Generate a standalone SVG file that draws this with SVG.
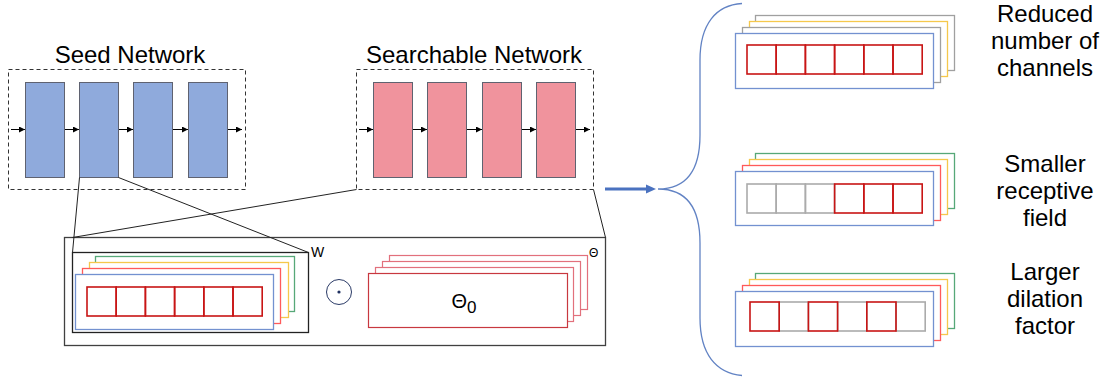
<svg xmlns="http://www.w3.org/2000/svg" width="1112" height="380" viewBox="0 0 1112 380">
  <defs>
    <marker id="tip" viewBox="0 0 6 6" refX="6" refY="3" markerWidth="6" markerHeight="6" markerUnits="userSpaceOnUse" orient="auto">
      <path d="M0,0 L6,3 L0,6 Z" fill="#000"/>
    </marker>
    <style>
      .title { font-family: "Liberation Sans", Arial, sans-serif; font-size: 24px; fill: #000; text-anchor: middle; }
      .side { font-family: "Liberation Sans", Arial, sans-serif; font-size: 24px; fill: #000; text-anchor: middle; }
      .small { font-family: "Liberation Sans", Arial, sans-serif; font-size: 14px; fill: #000; }
      .dash { fill: none; stroke: #333; stroke-width: 1; stroke-dasharray: 4 3; }
      .seed { fill: #8faadc; stroke: #5f6270; stroke-width: 1; }
      .search { fill: #f0939d; stroke: #5f6270; stroke-width: 1; }
      .flow { stroke: #000; stroke-width: 1; fill: none; marker-end: url(#tip); }
      .zoomline { stroke: #222; stroke-width: 1; fill: none; }
      .lay { fill: #fff; stroke-width: 1.3; }
      .blue { stroke: #7391d0; }
      .red { stroke: #ff5a5a; }
      .yel { stroke: #f5c84c; }
      .grn { stroke: #56a878; }
      .gry { stroke: #a0a0a0; }
      .cellR { fill: none; stroke: #c81515; stroke-width: 1.6; }
      .cellG { fill: none; stroke: #ababab; stroke-width: 1.6; }
      .theta { fill: #fff; stroke: #e2707c; stroke-width: 1.2; }
    </style>
  </defs>

  <!-- seed network -->
  <g id="seed-network">
    <text class="title" x="130" y="63">Seed Network</text>
    <rect class="dash" x="8.5" y="69.5" width="237" height="120"/>
    <rect class="seed" x="25.5" y="82.5" width="39" height="95"/>
    <rect class="seed" x="79.5" y="82.5" width="39" height="95"/>
    <rect class="seed" x="133.5" y="82.5" width="39" height="95"/>
    <rect class="seed" x="188.5" y="82.5" width="39" height="95"/>
  </g>

  <!-- searchable network -->
  <g id="searchable-network">
    <text class="title" x="474" y="63">Searchable Network</text>
    <rect class="dash" x="356.5" y="69.5" width="237" height="120"/>
    <rect class="search" x="373.5" y="82.5" width="39" height="95"/>
    <rect class="search" x="427.5" y="82.5" width="39" height="95"/>
    <rect class="search" x="482.5" y="82.5" width="39" height="95"/>
    <rect class="search" x="536.5" y="82.5" width="39" height="95"/>
  </g>

  <!-- expanded layer: weights W, elementwise product, mask Θ -->
  <g id="layer-detail">
    <rect x="64.5" y="237.5" width="541" height="108" fill="none" stroke="#404040" stroke-width="1.3"/>
  </g>

  <g id="weights-W">
    <rect x="72.5" y="252.5" width="236" height="80" fill="none" stroke="#222" stroke-width="1.3"/>
    <rect class="lay grn" x="95.5" y="256.5" width="199" height="55"/>
    <rect class="lay yel" x="89.5" y="262.5" width="199" height="55"/>
    <rect class="lay red" x="82.5" y="268.5" width="198" height="55"/>
    <rect class="lay blue" x="75.5" y="274.5" width="198" height="55"/>
    <g transform="translate(87,287)">
      <rect class="cellR" x="0" y="0" width="29.2" height="29"/>
      <rect class="cellR" x="29.2" y="0" width="29.2" height="29"/>
      <rect class="cellR" x="58.4" y="0" width="29.2" height="29"/>
      <rect class="cellR" x="87.6" y="0" width="29.2" height="29"/>
      <rect class="cellR" x="116.8" y="0" width="29.2" height="29"/>
      <rect class="cellR" x="146" y="0" width="29.2" height="29"/>
    </g>
    <text class="small" x="311" y="257">W</text>
  </g>

  <g id="product">
    <circle cx="339" cy="292" r="12.5" fill="none" stroke="#2a3a66" stroke-width="1"/>
    <circle cx="339" cy="292" r="1.6" fill="#1f3060"/>
  </g>

  <g id="mask-theta">
    <rect class="theta" x="389.5" y="255.5" width="198" height="54"/>
    <rect class="theta" x="382.5" y="261.5" width="198" height="54"/>
    <rect class="theta" x="375.5" y="267.5" width="198" height="54"/>
    <rect x="368.5" y="273.5" width="199" height="54" fill="#fff" stroke="#c8383f" stroke-width="1.2"/>
    <text x="464" y="308" text-anchor="middle" font-family="'Liberation Sans', Arial, sans-serif" font-size="20">Θ<tspan font-size="17" dy="5">0</tspan></text>
    <text x="589" y="257" font-family="'Liberation Sans', Arial, sans-serif" font-size="12">Θ</text>
  </g>

  <!-- reduced number of channels -->
  <g id="variant-channels">
    <rect class="lay gry" x="755.5" y="15.5" width="199" height="55"/>
    <rect class="lay yel" x="749.5" y="21.5" width="198" height="55"/>
    <rect class="lay gry" x="742.5" y="27.5" width="198" height="55"/>
    <rect class="lay blue" x="735.5" y="33.5" width="198" height="55"/>
    <g transform="translate(747,45)">
      <rect class="cellR" x="0" y="0" width="29.2" height="29"/>
      <rect class="cellR" x="29.2" y="0" width="29.2" height="29"/>
      <rect class="cellR" x="58.4" y="0" width="29.2" height="29"/>
      <rect class="cellR" x="87.6" y="0" width="29.2" height="29"/>
      <rect class="cellR" x="116.8" y="0" width="29.2" height="29"/>
      <rect class="cellR" x="146" y="0" width="29.2" height="29"/>
    </g>
    <text class="side" x="1045" y="22">Reduced</text>
    <text class="side" x="1045" y="49">number of</text>
    <text class="side" x="1045" y="76">channels</text>
  </g>

  <!-- smaller receptive field -->
  <g id="variant-receptive">
    <rect class="lay grn" x="755.5" y="153.5" width="199" height="55"/>
    <rect class="lay yel" x="749.5" y="159.5" width="198" height="55"/>
    <rect class="lay red" x="742.5" y="165.5" width="198" height="55"/>
    <rect class="lay blue" x="735.5" y="171.5" width="198" height="54"/>
    <g transform="translate(747,184)">
      <rect class="cellG" x="0" y="0" width="29.2" height="29"/>
      <rect class="cellG" x="29.2" y="0" width="29.2" height="29"/>
      <rect class="cellG" x="58.4" y="0" width="29.2" height="29"/>
      <rect class="cellR" x="87.6" y="0" width="29.2" height="29"/>
      <rect class="cellR" x="116.8" y="0" width="29.2" height="29"/>
      <rect class="cellR" x="146" y="0" width="29.2" height="29"/>
    </g>
    <text class="side" x="1045" y="172">Smaller</text>
    <text class="side" x="1045" y="199">receptive</text>
    <text class="side" x="1045" y="226">field</text>
  </g>

  <!-- larger dilation factor -->
  <g id="variant-dilation">
    <rect class="lay grn" x="755.5" y="273.5" width="199" height="55"/>
    <rect class="lay yel" x="749.5" y="279.5" width="198" height="55"/>
    <rect class="lay red" x="742.5" y="285.5" width="198" height="55"/>
    <rect class="lay blue" x="735.5" y="291.5" width="198" height="55"/>
    <g transform="translate(750,302)">
      <rect class="cellG" x="29.2" y="0" width="29.2" height="29"/>
      <rect class="cellG" x="87.6" y="0" width="29.2" height="29"/>
      <rect class="cellG" x="146" y="0" width="29.2" height="29"/>
      <rect class="cellR" x="0" y="0" width="29.2" height="29"/>
      <rect class="cellR" x="58.4" y="0" width="29.2" height="29"/>
      <rect class="cellR" x="116.8" y="0" width="29.2" height="29"/>
    </g>
    <text class="side" x="1045" y="280">Larger</text>
    <text class="side" x="1045" y="307">dilation</text>
    <text class="side" x="1045" y="334">factor</text>
  </g>

  <!-- connectors -->
  <g id="connectors">
    <line class="flow" x1="11" y1="129.5" x2="25" y2="129.5"/>
    <line class="flow" x1="65" y1="129.5" x2="79" y2="129.5"/>
    <line class="flow" x1="119" y1="129.5" x2="133" y2="129.5"/>
    <line class="flow" x1="173" y1="129.5" x2="188" y2="129.5"/>
    <line class="flow" x1="228" y1="129.5" x2="242" y2="129.5"/>

    <line class="flow" x1="359" y1="129.5" x2="373" y2="129.5"/>
    <line class="flow" x1="413" y1="129.5" x2="427" y2="129.5"/>
    <line class="flow" x1="467" y1="129.5" x2="482" y2="129.5"/>
    <line class="flow" x1="522" y1="129.5" x2="536" y2="129.5"/>
    <line class="flow" x1="576" y1="129.5" x2="590" y2="129.5"/>

    <line class="zoomline" x1="79.5" y1="177.5" x2="72.5" y2="252.5"/>
    <line class="zoomline" x1="118.5" y1="177.5" x2="308.5" y2="252.5"/>
    <line class="zoomline" x1="356.5" y1="189.5" x2="72.5" y2="237.5"/>
    <line class="zoomline" x1="593.5" y1="189.5" x2="605.5" y2="237.5"/>

    <line x1="605" y1="189" x2="647" y2="189" stroke="#4a72c0" stroke-width="3"/>
    <path d="M646,184.5 L656,189 L646,193.5 Z" fill="#4a72c0"/>

    <path d="M742,3.5 C716,5 700,24 700,60 L700,135 C700,171 686,189 658,189 C686,189 700,207 700,243 L700,318 C700,354 716,373 742,375.5" fill="none" stroke="#6283c4" stroke-width="1.3"/>
  </g>
</svg>
